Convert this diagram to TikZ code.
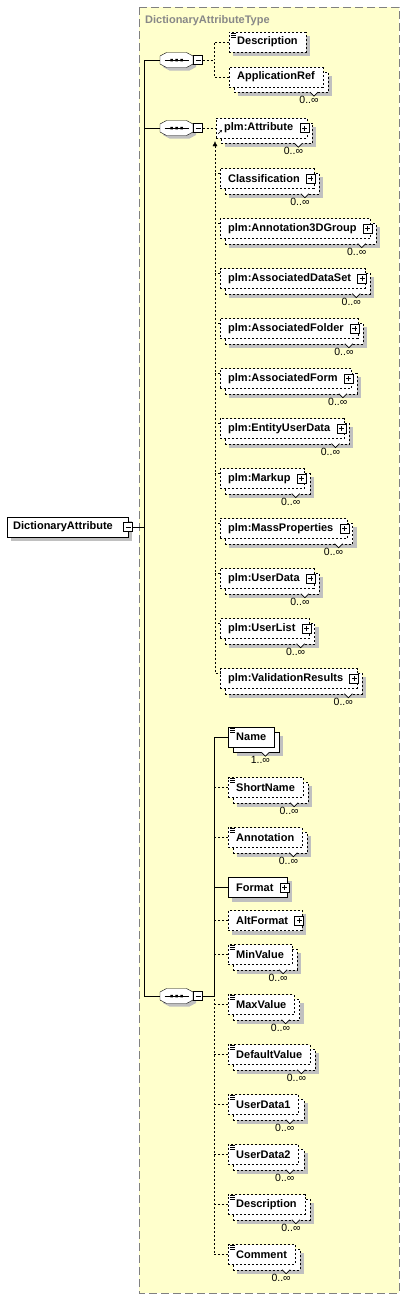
\documentclass[tikz,border=0pt]{standalone}
\usepackage{fontspec}
\setmainfont{Liberation Sans}
\usetikzlibrary{arrows.meta}

\definecolor{panelfill}{RGB}{255,255,204}
\definecolor{panelline}{RGB}{128,128,128}
\definecolor{titlegray}{RGB}{136,136,136}
\definecolor{shadowgray}{RGB}{192,192,192}

\pgfdeclarelayer{panel}
\pgfdeclarelayer{background}
\pgfsetlayers{panel,background,main}

\tikzset{
  elembox/.style={draw, fill=white, anchor=west, minimum height=20pt, inner xsep=8pt, inner ysep=0pt,
    font=\bfseries\fontsize{11}{13}\selectfont},
  optional/.style={dash pattern=on 2pt off 2pt},
  complex/.style={execute at end node={\hspace*{6pt}}},
  multlabel/.style={font=\fontsize{10.5}{12}\selectfont, inner sep=0pt},
  minusbtn/.pic={
    \draw[fill=white, line width=0.8pt] (-4.5,-4.5) rectangle (4.5,4.5);
    \draw[line width=0.8pt] (-2.5,0) -- (2.5,0);
    \coordinate (-e) at (4.5,0);
  },
  plusbtn/.pic={
    \draw[fill=white, line width=0.8pt] (-4.5,-4.5) rectangle (4.5,4.5);
    \draw[line width=0.8pt] (-2.5,0) -- (2.5,0) (0,-2.5) -- (0,2.5);
  },
  seqicon/.pic={
    \fill[shadowgray, shift={(3,3)}] (-16.5,-4) -- (-10,-7.5) -- (10,-7.5) -- (16.5,-4) -- (16.5,4) -- (10,7.5) -- (-10,7.5) -- (-16.5,4) -- cycle;
    \draw[fill=white] (-16.5,-4) -- (-10,-7.5) -- (10,-7.5) -- (16.5,-4) -- (16.5,4) -- (10,7.5) -- (-10,7.5) -- (-16.5,4) -- cycle;
    \draw (-12,0) -- (12,0);
    \fill (-6.25,-1.25) rectangle (-3.75,1.25) (-1.25,-1.25) rectangle (1.25,1.25) (3.75,-1.25) rectangle (6.25,1.25);
    \pic at (21.5,0) {minusbtn};
    \coordinate (-w) at (-16.5,0);
    \coordinate (-e) at (26,0);
  }
}

\begin{document}
\begin{tikzpicture}[x=1pt, y=-1pt, line width=0.8pt]
\useasboundingbox (0,0) rectangle (406,1299);
\begin{pgfonlayer}{panel}
\draw[panelline, fill=panelfill, dash pattern=on 8pt off 4pt] (139,7) rectangle (399,1293);
\end{pgfonlayer}
\node[font=\bfseries\fontsize{11}{13}\selectfont, text=titlegray, anchor=base west, inner sep=0pt] (title) at (145,23) {DictionaryAttributeType};

% root element and the three sequences
\node[elembox, inner xsep=6pt, execute at end node={\hspace*{9pt}}] (root) at (7,527) {DictionaryAttribute};
\pic (rootbtn) at (root.east) {minusbtn};
\coordinate (trunk) at (144,0);
\pic (s1) at (176.5,60) {seqicon};
\pic (s2) at (176.5,128) {seqicon};
\pic (s3) at (176.5,996) {seqicon};

% first sequence
\node[elembox, optional] (desc1) at (229,42) {Description};
\node[elembox, optional] (appref) at (229,77) {ApplicationRef};

% second sequence: head and substitution members
\node[elembox, optional, complex] (attr) at (216,128) {plm:Attribute};
\foreach \n/\t [count=\i from 0] in {cls/Classification, a3d/plm:Annotation3DGroup, ads/plm:AssociatedDataSet,
    afo/plm:AssociatedFolder, afm/plm:AssociatedForm, eud/plm:EntityUserData, mku/plm:Markup,
    mas/plm:MassProperties, usd/plm:UserData, usl/plm:UserList, val/plm:ValidationResults}
  \node[elembox, optional, complex] (\n) at (220,178.5+50*\i) {\t};

% third sequence
\node[elembox] (name) at (228,737) {Name};
\node[elembox, optional] (shortname) at (228,787.5) {ShortName};
\node[elembox, optional] (annot) at (228,837.5) {Annotation};
\node[elembox, complex] (format) at (228,887.5) {Format};
\node[elembox, optional, complex] (altformat) at (228,920.5) {AltFormat};
\node[elembox, optional] (minval) at (228,954.5) {MinValue};
\node[elembox, optional] (maxval) at (228,1004.5) {MaxValue};
\node[elembox, optional] (defval) at (228,1054.5) {DefaultValue};
\node[elembox, optional] (udata1) at (228,1104.5) {UserData1};
\node[elembox, optional] (udata2) at (228,1154.5) {UserData2};
\node[elembox, optional] (desc2) at (228,1204.5) {Description};
\node[elembox, optional] (comment) at (228,1254.5) {Comment};

% shadows and stacked boxes
\begin{pgfonlayer}{background}
\foreach \n in {root,desc1,format,altformat}
  \fill[shadowgray] ([shift={(4,4)}]\n.north west) rectangle ([shift={(4,4)}]\n.south east);
\foreach \n in {appref,attr,cls,a3d,ads,afo,afm,eud,mku,mas,usd,usl,val,name,shortname,annot,
    minval,maxval,defval,udata1,udata2,desc2,comment}
  \fill[shadowgray] ([shift={(9,9)}]\n.north west) rectangle ([shift={(9,9)}]\n.south east);
\draw[fill=white] ([shift={(5,5)}]name.north west) rectangle ([shift={(5,5)}]name.south east);
\foreach \n in {appref,attr,cls,a3d,ads,afo,afm,eud,mku,mas,usd,usl,val,shortname,annot,
    minval,maxval,defval,udata1,udata2,desc2,comment}
  \draw[fill=white, optional] ([shift={(5,5)}]\n.north west) rectangle ([shift={(5,5)}]\n.south east);
\end{pgfonlayer}

% icons, notches and occurrences
\foreach \n in {attr,cls,a3d,ads,afo,afm,eud,mku,mas,usd,usl,val,format,altformat}
  \pic at ([xshift=-3pt]\n.east) {plusbtn};
\foreach \n in {desc1,name,shortname,annot,minval,maxval,defval,udata1,udata2,desc2,comment}
  \draw[line width=0.7pt] ([shift={(2,1.5)}]\n.north west) -- +(5,0) ([shift={(2,3.5)}]\n.north west) -- +(5,0)
    ([shift={(2,5.5)}]\n.north west) -- +(5,0);
\foreach \n/\m in {appref/0..∞, attr/0..∞, cls/0..∞, a3d/0..∞, ads/0..∞, afo/0..∞, afm/0..∞, eud/0..∞,
    mku/0..∞, mas/0..∞, usd/0..∞, usl/0..∞, val/0..∞, name/1..∞, shortname/0..∞, annot/0..∞,
    minval/0..∞, maxval/0..∞, defval/0..∞, udata1/0..∞, udata2/0..∞, desc2/0..∞, comment/0..∞}
{
  \draw[fill=white, line width=0.7pt] ([shift={(-13,5)}]\n.south east) -- ++(4,4) -- ++(4,-4);
  \node[multlabel] (\n-m) at ([shift={(-14,13)}]\n.south east) {\m};
}
\draw[-{Stealth[length=2.5pt,width=2.5pt]}, line width=0.6pt] ([shift={(2,6)}]attr.west) -- ([shift={(6,2)}]attr.west);

% connectors
\draw (s1-w -| trunk) -- (s3-w -| trunk);
\draw (rootbtn-e) -- (rootbtn-e -| trunk);
\draw (s1-w -| trunk) -- (s1-w);
\draw (s2-w -| trunk) -- (s2-w);
\draw (s3-w -| trunk) -- (s3-w);

\coordinate (j1) at (214,60);
\draw[optional] (s1-e) -- (j1);
\draw[optional] (desc1.west) -| (j1);
\draw[optional] (appref.west) -| (j1);

\draw[optional] (s2-e) -- (attr.west);
\coordinate (subtop) at ([shift={(-1,3)}]attr.south west);
\draw[optional, {Latex[length=5pt,width=5pt]}-] (subtop) |- ([yshift=5pt]val.west);
\foreach \n in {cls,a3d,ads,afo,afm,eud,mku,mas,usd,usl}
  \draw[optional] ([yshift=5pt]\n.west) -- ++(-5,0);

\coordinate (j3) at (214,996);
\draw (s3-e) -- (j3);
\draw (name.west) -| (j3);
\draw (format.west) -- (format.west -| j3);
\foreach \n in {shortname,annot,altformat,minval,maxval,defval,udata1,udata2,desc2}
  \draw[optional] (\n.west) -- (\n.west -| j3);
\draw[optional] (comment.west) -| (j3);
\end{tikzpicture}
\end{document}
